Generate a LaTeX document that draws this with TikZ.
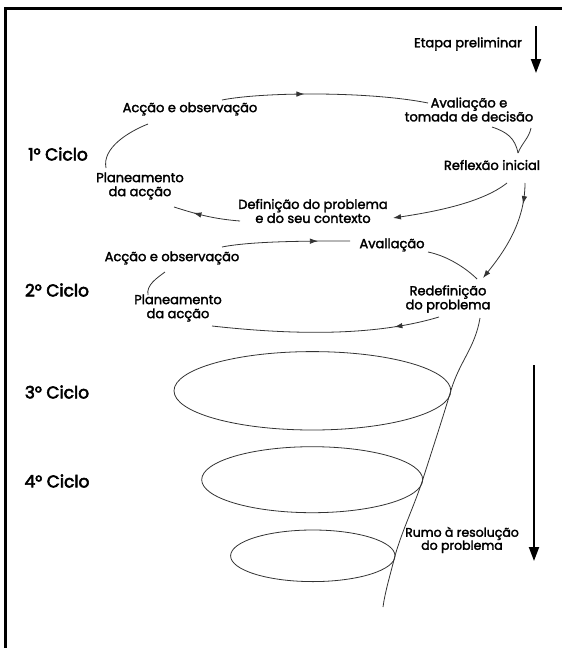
\documentclass[tikz,border=0pt]{standalone}
\usepackage{fontspec}
\setmainfont{Poppins}
\newfontfamily\diagfont{Poppins}[FakeBold=2.2]
\newfontfamily\ciclofont{Poppins}[FakeBold=3.2]
\usetikzlibrary{calc, positioning, arrows.meta, shapes.geometric, decorations.markings}

\begin{document}
\begin{tikzpicture}[
    x=1pt, y=-1pt,
    lbl/.style={inner sep=1pt, align=center, font=\diagfont\fontsize{13}{14}\selectfont},
    ciclo/.style={inner sep=1pt, font=\ciclofont\fontsize{17}{18}\selectfont},
    ring/.style={draw=black!80, line width=0.8pt, ellipse, inner sep=0pt, outer sep=0pt},
    cyc/.style={draw=black!80, line width=0.8pt},
    tip/.style={-{Latex[length=8pt,width=5.5pt]}},
    mid/.style={postaction={decorate}, decoration={markings, mark=at position #1 with {\arrow{Latex[length=8pt,width=5.5pt]}}}},
    bigarrow/.style={line width=2pt, -{Triangle[length=14pt,width=10pt]}}
]
\useasboundingbox (0,0) rectangle (562,648);
\draw[line width=2.6pt] (5.5,648) -- (5.5,8.7) -- (562,8.7);

\node[lbl] (etapa) at (468,44) {Etapa preliminar};
\coordinate (e1) at (536,26);
\coordinate (e2) at (536,73);

\node[ciclo] (c1) at (58,154) {1° Ciclo};
\node[lbl] (acc1) at (190,109) {Acção e observação};
\node[lbl] (aval1) at (469,109.5) {Avaliação e\\tomada de decisão};
\node[lbl] (refl) at (492,165) {Reflexão inicial};
\node[lbl] (def1) at (313,211) {Definição do problema\\e do seu contexto};
\node[lbl] (plan1) at (140,186) {Planeamento\\da acção};

\node[ciclo] (c2) at (57,290) {2° Ciclo};
\node[lbl] (acc2) at (172,258) {Acção e observação};
\node[lbl] (aval2) at (392,245) {Avallação};
\node[lbl] (red2) at (448,299) {Redefinição\\do problema};
\node[lbl] (plan2) at (178,308) {Planeamento\\da acção};

\node[ciclo] (c3) at (57,392) {3° Ciclo};
\node[ring, minimum width=276.8pt, minimum height=78.4pt] (cyc3) at (312.4,390.8) {};
\node[ciclo] (c4) at (57,481) {4° Ciclo};
\node[ring, minimum width=221pt, minimum height=66pt] (cyc4) at (312.2,479.7) {};
\node[ring, minimum width=164.4pt, minimum height=51.6pt] (cyc5) at (312.8,555.8) {};
\coordinate (fim) at (383,607);

\node[lbl, font=\diagfont\fontsize{12.5}{13}\selectfont] (rumo) at (462,540) {Rumo à resolução\\do problema};
\coordinate (r1) at (534,365);
\coordinate (r2) at (534,561);

\draw[bigarrow] (e1) -- (e2);
\draw[bigarrow] (r1) -- (r2);

\draw[cyc, mid=0.4] ($(acc1)+(32,-9)$) .. controls +(40,-8) and +(-60,-12) .. ($(aval1)+(-41,-6.5)$);
\draw[cyc] ($(aval1)+(23,17.5)$) .. controls +(15,5) and +(-3,-15) .. ($(refl)+(26,-12)$);
\draw[cyc] ($(aval1)+(62,18.5)$) .. controls +(-2,10) and +(4,-10) .. ($(refl)+(26,-12)$);
\draw[cyc, tip] ($(refl)+(15,18)$) .. controls +(-25,20) and +(40,-6) .. ($(def1)+(80,7)$);
\draw[cyc, mid=0.7] ($(def1)+(-73,10)$) .. controls +(-25,-2) and +(25,8) .. ($(plan1)+(34,21)$);
\draw[cyc] ($(plan1)+(-34,-18)$) .. controls +(-4,-20) and +(-20,8) .. ($(acc1)+(-42,15)$);
\draw[cyc, tip, mid=0.2] ($(refl)+(33,18)$) .. controls +(0,40) and +(20,-25) .. ($(red2)+(35,-21)$);

\draw[cyc, mid=0.75] ($(acc2)+(50,-11)$) .. controls +(30,-6) and +(-40,0) .. ($(aval2)+(-42,-4)$);
\draw[cyc] ($(aval2)+(36,7)$) .. controls +(20,4) and +(-10,-10) .. ($(red2)+(29,-20)$);
\draw[cyc, mid=0.2] ($(red2)+(-9,18)$) .. controls +(-60,18) and +(90,10) .. ($(plan2)+(34,18)$);
\draw[cyc] ($(plan2)+(-30,-13)$) .. controls +(-2,-10) and +(-8,6) .. ($(acc2)+(-7,14)$);

\draw[cyc] ($(red2)+(32,19)$) .. controls +(-5,30) and +(9,-30) .. (cyc3.east)
    .. controls +(-8,27) and +(8,-25) .. (cyc4.east)
    .. controls +(-8,25) and +(7,-25) .. (cyc5.east)
    .. controls +(-5,20) and +(2,-15) .. (fim);

\end{tikzpicture}
\end{document}
